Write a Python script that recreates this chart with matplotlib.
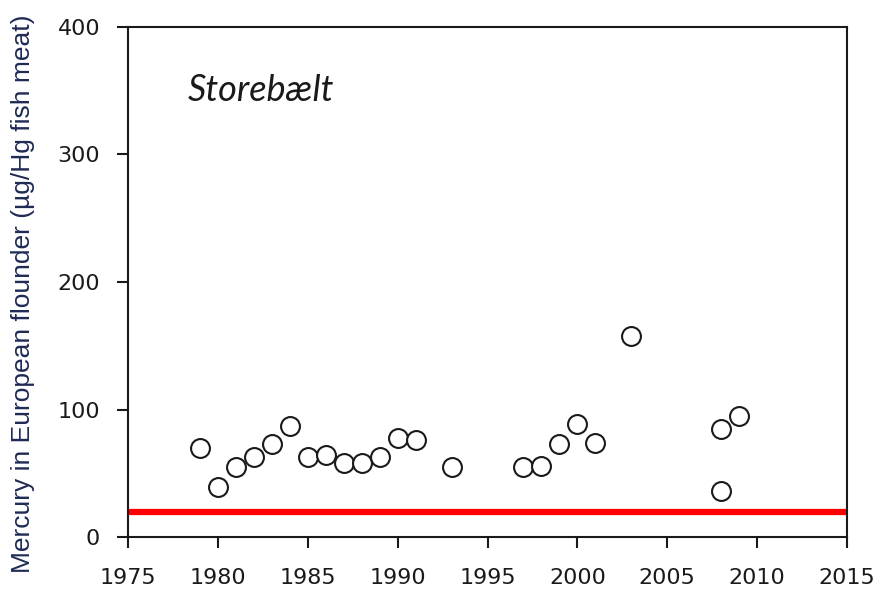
import matplotlib
matplotlib.use("Agg")
import matplotlib.pyplot as plt

years = [1979, 1980, 1981, 1982, 1983, 1984, 1985, 1986, 1987, 1988, 1989, 1990, 1991,
         1993, 1997, 1998, 1999, 2000, 2001, 2003, 2008, 2008, 2009]
mercury = [70, 39, 55, 63, 73, 87, 63, 64, 58, 58, 63, 78, 76,
           55, 55, 56, 73, 89, 74, 158, 85, 36, 95]
threshold = 20
x_ticks = [1975, 1980, 1985, 1990, 1995, 2000, 2005, 2010, 2015]
y_ticks = [0, 100, 200, 300, 400]
ylabel = "Mercury in European flounder (µg/Hg fish meat)"
site = "Storebælt"

fig = plt.figure(figsize=(8.77, 5.90), dpi=100)
ax = fig.add_axes([128/877, 53/590, (847-128)/877, (537-27)/590])

ax.axhline(threshold, color="#ff0000", lw=4.5, zorder=2)
ax.scatter(years, mercury, s=185, facecolors="white", edgecolors="#1a1a1a",
           linewidths=1.5, zorder=3)

ax.set_xlim(1975, 2015)
ax.set_ylim(0, 400)
ax.set_xticks(x_ticks)
ax.set_yticks(y_ticks)
ax.tick_params(direction="out", length=8, width=1.5, color="#1a1a1a",
               labelsize=16, labelcolor="#1a1a1a")
ax.tick_params(axis="x", pad=14)
ax.tick_params(axis="y", pad=12)
for s in ax.spines.values():
    s.set_linewidth(1.5)
    s.set_color("#1a1a1a")

ax.set_ylabel(ylabel, fontsize=19, family="Liberation Sans", color="#1f2a55")
ax.yaxis.set_label_coords(-0.13, 0.476)
ax.text(1978.3, 350, site, fontsize=26, style="italic", family="Lato",
        color="#1a1a1a", va="center", ha="left")

fig.savefig("out.png", dpi=100)
